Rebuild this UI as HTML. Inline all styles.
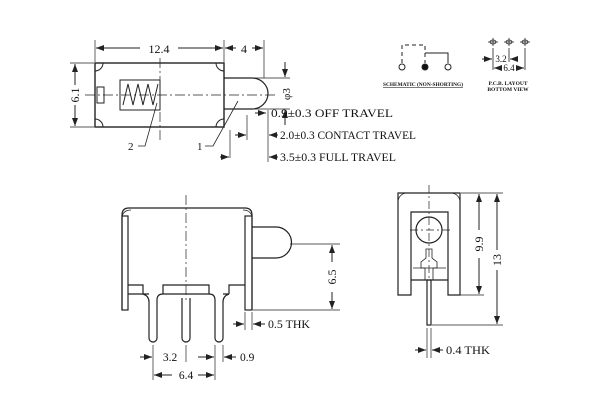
<!DOCTYPE html>
<html><head><style>body{margin:0;background:#fff}svg{display:block}text{font-family:"Liberation Serif","Times New Roman",serif;fill:#111;stroke:none}</style></head><body>
<svg width="600" height="400" viewBox="0 0 600 400" xmlns="http://www.w3.org/2000/svg" stroke="#222" fill="none" stroke-width="1">
<defs><marker id="a" markerWidth="8" markerHeight="6" refX="8" refY="3" orient="auto"><path d="M0,0L8,3L0,6z" fill="#222" stroke="none"/></marker></defs>
<!-- TOP VIEW -->
<rect x="95" y="63" width="129" height="64" stroke-width="1.4"/>
<path d="M224,78H252A16,15.5 0 0 1 252,109H224" stroke-width="1.2"/>
<rect x="120" y="80" width="40" height="30"/>
<path d="M123,105L128,84L133,105L138,84L143,105L148,84L153,105L158,84" />
<rect x="97" y="87" width="7" height="16"/>
<path d="M95,71a8,8 0 0 0 8,-8M95,119a8,8 0 0 1 8,8M224,71a8,8 0 0 1 -8,-8M224,119a8,8 0 0 0 -8,8"/>
<line x1="85" y1="95" x2="275" y2="95" stroke-dasharray="10,3,2,3" stroke-width=".7"/>
<line x1="160" y1="58" x2="160" y2="140" stroke-dasharray="10,3,2,3" stroke-width=".7"/>
<line x1="95" y1="40" x2="95" y2="62" stroke-width=".7"/><line x1="224" y1="40" x2="224" y2="62" stroke-width=".7"/><line x1="264" y1="40" x2="264" y2="78" stroke-width=".7"/>
<line x1="140" y1="48" x2="96" y2="48" marker-end="url(#a)"/><line x1="178" y1="48" x2="223" y2="48" marker-end="url(#a)"/>
<line x1="236" y1="48" x2="225" y2="48" marker-end="url(#a)"/><line x1="252" y1="48" x2="263" y2="48" marker-end="url(#a)"/>
<text x="159" y="53" font-size="12" text-anchor="middle">12.4</text><text x="244" y="53" font-size="12" text-anchor="middle">4</text>
<line x1="70" y1="63" x2="94" y2="63" stroke-width=".7"/><line x1="70" y1="127" x2="94" y2="127" stroke-width=".7"/>
<line x1="75" y1="85" x2="75" y2="64" marker-end="url(#a)"/><line x1="75" y1="105" x2="75" y2="126" marker-end="url(#a)"/>
<text x="79" y="95" font-size="12" text-anchor="middle" transform="rotate(-90 79 95)">6.1</text>
<line x1="253" y1="78" x2="290" y2="78" stroke-width=".7"/><line x1="253" y1="109" x2="290" y2="109" stroke-width=".7"/>
<line x1="285" y1="62" x2="285" y2="77" marker-end="url(#a)"/><line x1="285" y1="125" x2="285" y2="110" marker-end="url(#a)"/>
<text x="290" y="94" font-size="11" text-anchor="middle" transform="rotate(-90 290 94)">φ3</text>
<line x1="268" y1="110" x2="268" y2="162" stroke-width=".7"/><line x1="247" y1="115" x2="247" y2="140" stroke-width=".7"/><line x1="230" y1="130" x2="230" y2="158" stroke-width=".7"/>
<line x1="255" y1="113" x2="266" y2="113" marker-end="url(#a)"/>
<line x1="278" y1="135" x2="269" y2="135" marker-end="url(#a)"/><line x1="235" y1="135" x2="246" y2="135" marker-end="url(#a)"/>
<line x1="278" y1="157" x2="269" y2="157" marker-end="url(#a)"/><line x1="220" y1="157" x2="229" y2="157" marker-end="url(#a)"/>
<text x="271" y="117" font-size="11.5" textLength="122" lengthAdjust="spacingAndGlyphs">0.9±0.3 OFF TRAVEL</text>
<text x="280" y="139" font-size="11.5" textLength="136" lengthAdjust="spacingAndGlyphs">2.0±0.3 CONTACT TRAVEL</text>
<text x="280" y="161" font-size="11.5" textLength="116" lengthAdjust="spacingAndGlyphs">3.5±0.3 FULL TRAVEL</text>
<path d="M138,146H145L157,103M205,146H213L238,101" stroke-width=".8"/>
<text x="128" y="150" font-size="11">2</text><text x="197" y="150" font-size="11">1</text>
<!-- SCHEMATIC -->
<path d="M402,63V45H425V63" stroke-dasharray="4,3"/>
<path d="M425,53H448V63"/>
<circle cx="402" cy="67" r="3"/><circle cx="425" cy="67" r="3" fill="#111"/><circle cx="448" cy="67" r="3"/>
<text x="383" y="86" font-size="5.5" font-weight="bold" text-decoration="underline" textLength="80" lengthAdjust="spacingAndGlyphs">SCHEMATIC (NON-SHORTING)</text>
<g stroke-width=".8"><path d="M488,42h10M493,38v8M504,42h10M509,38v8M520,42h10M525,38v8"/><ellipse cx="493" cy="42" rx="3" ry="2"/><ellipse cx="509" cy="42" rx="3" ry="2"/><ellipse cx="525" cy="42" rx="3" ry="2"/>
<path d="M493,48V70M509,48V62M525,48V70"/></g>
<line x1="482" y1="59" x2="492" y2="59" marker-end="url(#a)"/><line x1="518" y1="59" x2="510" y2="59" marker-end="url(#a)"/>
<text x="501" y="62" font-size="9" text-anchor="middle">3.2</text>
<line x1="500" y1="68" x2="494" y2="68" marker-end="url(#a)"/><line x1="518" y1="68" x2="524" y2="68" marker-end="url(#a)"/>
<text x="509" y="71" font-size="9" text-anchor="middle">6.4</text>
<text x="508" y="85" font-size="5.5" font-weight="bold" text-anchor="middle">P.C.B. LAYOUT</text>
<text x="508" y="91" font-size="5.5" font-weight="bold" text-anchor="middle">BOTTOM VIEW</text>
<!-- FRONT VIEW -->
<g stroke-width="1.2">
<path d="M122,310V215Q122,208 129,208H245Q252,208 252,215V310"/>
<rect x="122" y="216" width="6" height="94"/>
<rect x="245" y="216" width="7" height="94"/>
<path d="M122,216Q124,210 131,210M252,216Q250,210 243,210" stroke-width=".8"/>
<path d="M128,285H143V294M245,285H229V294M163,294V285H209V294"/>
<path d="M128,294H143Q149,296 149,302M229,294Q223,296 223,302M163,294H209M143,294H149M223,294H229"/>
<path d="M252,227H276A15.5,15.5 0 0 1 276,258H252"/>
<path d="M149,302V338a4,4 0 0 0 8,0V300M182,298V338a4,4 0 0 0 8,0V298M215,300V338a4,4 0 0 0 8,0V302"/>
<path d="M157,300Q157,294 163,294M209,294Q215,294 215,300"/>
</g>
<line x1="186" y1="195" x2="186" y2="300" stroke-dasharray="10,3,2,3" stroke-width=".7"/>
<line x1="290" y1="244" x2="340" y2="244" stroke-width=".7"/><line x1="253" y1="310" x2="340" y2="310" stroke-width=".7"/>
<line x1="332" y1="262" x2="332" y2="245" marker-end="url(#a)"/><line x1="332" y1="292" x2="332" y2="309" marker-end="url(#a)"/>
<text x="336" y="277" font-size="12" text-anchor="middle" transform="rotate(-90 336 277)">6.5</text>
<line x1="245" y1="312" x2="245" y2="330" stroke-width=".7"/><line x1="252" y1="312" x2="252" y2="330" stroke-width=".7"/>
<line x1="233" y1="324" x2="244" y2="324" marker-end="url(#a)"/><line x1="265" y1="324" x2="253" y2="324" marker-end="url(#a)"/>
<text x="268" y="328" font-size="11.5" textLength="42" lengthAdjust="spacingAndGlyphs">0.5 THK</text>
<line x1="153" y1="345" x2="153" y2="380" stroke-width=".7"/><line x1="186" y1="345" x2="186" y2="362" stroke-width=".7"/><line x1="215" y1="345" x2="215" y2="380" stroke-width=".7"/><line x1="223" y1="345" x2="223" y2="362" stroke-width=".7"/>
<line x1="140" y1="357" x2="152" y2="357" marker-end="url(#a)"/><line x1="198" y1="357" x2="214" y2="357" marker-end="url(#a)"/>
<line x1="236" y1="357" x2="224" y2="357" marker-end="url(#a)"/>
<text x="170" y="361" font-size="11.5" text-anchor="middle">3.2</text><text x="240" y="361" font-size="11.5">0.9</text>
<line x1="172" y1="375" x2="154" y2="375" marker-end="url(#a)"/><line x1="198" y1="375" x2="214" y2="375" marker-end="url(#a)"/>
<text x="186" y="379" font-size="11.5" text-anchor="middle">6.4</text>
<!-- SIDE VIEW -->
<g stroke-width="1.2">
<path d="M398,295V193H460V295H448V212H411V295Z"/>
<path d="M411,280H448"/>
<circle cx="429" cy="230" r="13"/>
<path d="M425,280V268H421V262L426,258V249H432V258L437,262V268H433V280" stroke-width=".8"/>
<path d="M413,268H446" stroke-width=".8"/>
<rect x="427" y="280" width="4" height="45"/>
<path d="M398,202a9,9 0 0 1 9,-9M460,202a9,9 0 0 0 -9,-9" stroke-width=".8"/>
</g>
<line x1="429" y1="185" x2="429" y2="280" stroke-dasharray="8,3,2,3" stroke-width=".7"/><line x1="410" y1="230" x2="450" y2="230" stroke-dasharray="8,3,2,3" stroke-width=".7"/>
<line x1="461" y1="193" x2="503" y2="193" stroke-width=".7"/><line x1="449" y1="295" x2="484" y2="295" stroke-width=".7"/><line x1="432" y1="325" x2="503" y2="325" stroke-width=".7"/>
<line x1="479" y1="230" x2="479" y2="194" marker-end="url(#a)"/><line x1="479" y1="258" x2="479" y2="294" marker-end="url(#a)"/>
<text x="483" y="244" font-size="12" text-anchor="middle" transform="rotate(-90 483 244)">9.9</text>
<line x1="497" y1="250" x2="497" y2="194" marker-end="url(#a)"/><line x1="497" y1="270" x2="497" y2="324" marker-end="url(#a)"/>
<text x="501" y="260" font-size="12" text-anchor="middle" transform="rotate(-90 501 260)">13</text>
<line x1="427" y1="328" x2="427" y2="358" stroke-width=".7"/><line x1="431" y1="328" x2="431" y2="358" stroke-width=".7"/>
<line x1="415" y1="350" x2="426" y2="350" marker-end="url(#a)"/><line x1="443" y1="350" x2="432" y2="350" marker-end="url(#a)"/>
<text x="446" y="354" font-size="11.5" textLength="44" lengthAdjust="spacingAndGlyphs">0.4 THK</text>
</svg>
</body></html>
